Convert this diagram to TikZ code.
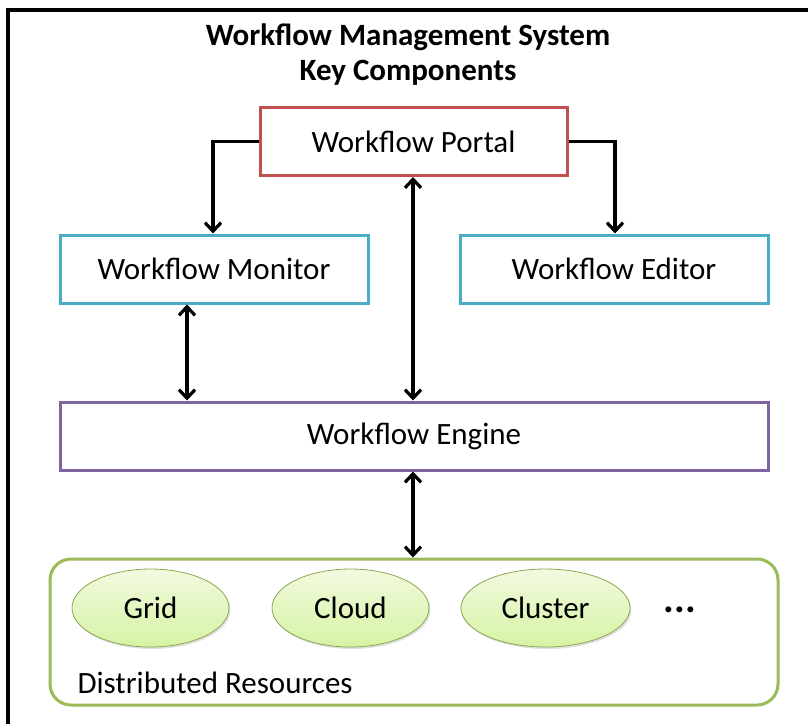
\documentclass[tikz,border=0pt]{standalone}
\usepackage{fontspec}
\setmainfont{Carlito}
\usetikzlibrary{arrows.meta,shadows,shapes.geometric}

\definecolor{portalred}{HTML}{C0504D}
\definecolor{aqualine}{HTML}{4BACC6}
\definecolor{engineviolet}{HTML}{8064A2}
\definecolor{resgreen}{HTML}{9BBB59}
\definecolor{ovaltop}{HTML}{F2FADF}
\definecolor{ovalbot}{HTML}{D6F3A3}

\tikzset{
  labelfont/.style={font=\fontsize{31}{36}\selectfont},
  compbox/.style={draw, line width=3pt, minimum width=307pt, minimum height=68pt,
    inner sep=0pt, labelfont},
  resoval/.style={ellipse, draw=resgreen!90!black, line width=0.8pt,
    top color=ovaltop, bottom color=ovalbot, inner sep=0pt, labelfont,
    drop shadow={shadow xshift=1.5pt, shadow yshift=-2pt, opacity=0.25}},
  link/.style={line width=3.2pt, black,
    >={Straight Barb[length=8.5pt, width=16pt, line width=3.2pt]}},
}

\begin{document}
\begin{tikzpicture}[x=1pt, y=-1pt]
\useasboundingbox (0,0) rectangle (808,723);

% outer frame (runs off the right and lower edges)
\draw[line width=3.5pt] (8,850) -- (8,10) -- (900,10);

% title
\node[font=\fontsize{31}{35}\selectfont\bfseries, align=center] (title) at (408,54.5)
  {Workflow Management System\\Key Components};

% components
\node[compbox, draw=portalred] (portal) at (413.5,141.5) {Workflow Portal};
\node[compbox, draw=aqualine, minimum width=308pt] (monitor) at (214,269) {Workflow Monitor};
\node[compbox, draw=aqualine, minimum width=308pt] (editor) at (614,269) {Workflow Editor};
\node[compbox, draw=engineviolet, minimum width=708pt] (engine) at (414,436) {Workflow Engine};

% distributed resources container
\node[draw=resgreen, line width=3pt, rounded corners=21pt,
  minimum width=728pt, minimum height=146pt, inner sep=0pt] (res) at (414,632) {};
\node[anchor=base west, labelfont] (reslabel) at (74,693)
  {Distributed Resources};

\node[resoval, minimum width=157pt, minimum height=78pt] (grid) at (150.5,608) {Grid};
\node[resoval, minimum width=157pt, minimum height=78pt] (cloud) at (350.5,608) {Cloud};
\node[resoval, minimum width=169pt, minimum height=78pt] (cluster) at (545.5,608) {Cluster};
\node[font=\fontsize{40}{44}\selectfont\bfseries] (more) at (680,610) {...};

% connectors
\draw[link, ->] (portal.west) -| (monitor.north -| 213,0);
\draw[link, ->] (portal.east) -| (editor.north -| 615,0);
\draw[link, <->] (portal.south -| 413,0) -- (engine.north -| 413,0);
\draw[link, <->] (monitor.south -| 187,0) -- (engine.north -| 187,0);
\draw[link, <->] (engine.south -| 413,0) -- (res.north -| 413,0);
\end{tikzpicture}
\end{document}
